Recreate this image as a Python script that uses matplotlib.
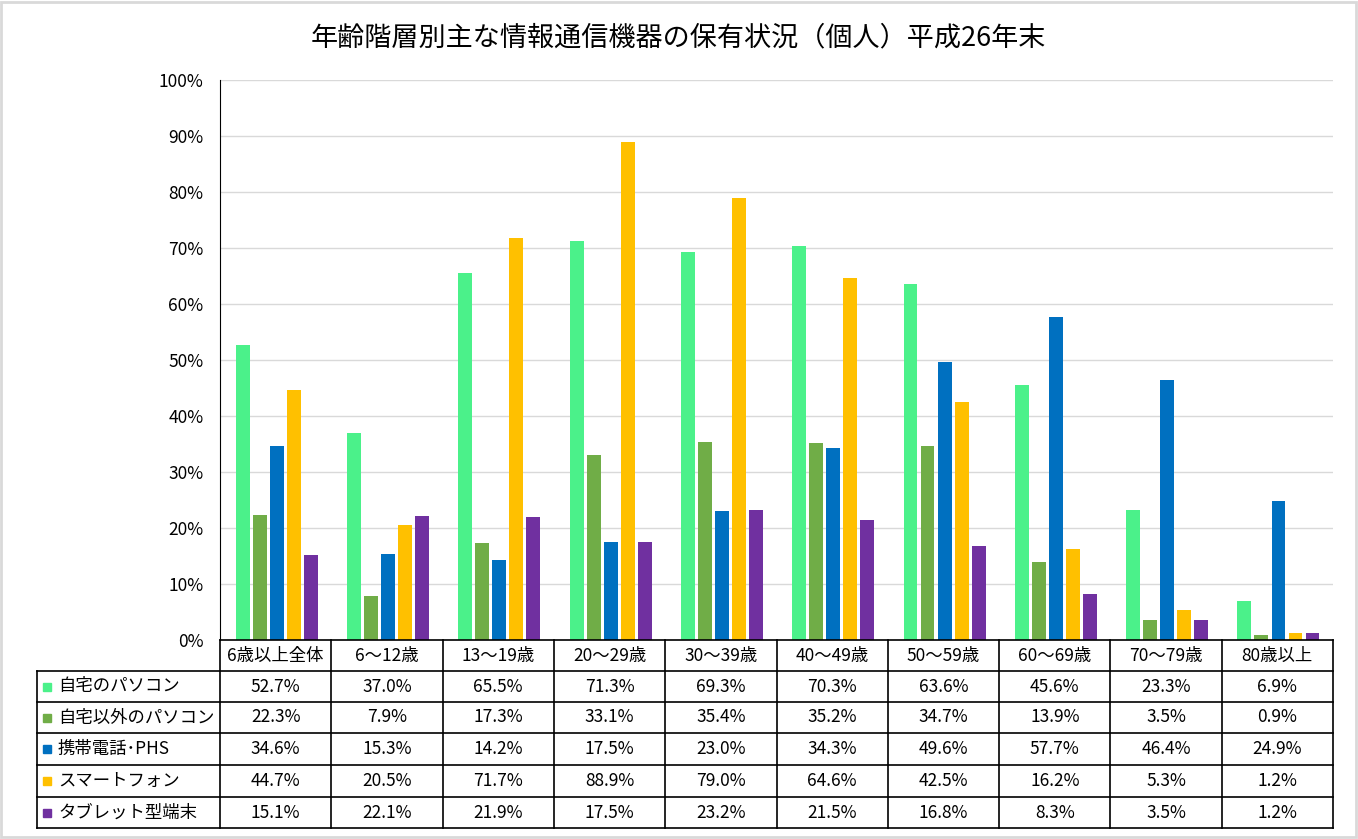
import numpy as np
import matplotlib.pyplot as plt
from matplotlib.patches import Rectangle
from matplotlib.lines import Line2D
from matplotlib.ticker import FuncFormatter

plt.rcParams['font.family'] = ['Noto Sans CJK JP', 'DejaVu Sans']

# 年齢階層
ages = ['6歳以上全体', '6～12歳', '13～19歳', '20～29歳', '30～39歳',
        '40～49歳', '50～59歳', '60～69歳', '70～79歳', '80歳以上']

series_names = ['自宅のパソコン', '自宅以外のパソコン', '携帯電話･PHS',
                'スマートフォン', 'タブレット型端末']
home_pc = [52.7, 37.0, 65.5, 71.3, 69.3, 70.3, 63.6, 45.6, 23.3, 6.9]
other_pc = [22.3, 7.9, 17.3, 33.1, 35.4, 35.2, 34.7, 13.9, 3.5, 0.9]
mobile = [34.6, 15.3, 14.2, 17.5, 23.0, 34.3, 49.6, 57.7, 46.4, 24.9]
smartphone = [44.7, 20.5, 71.7, 88.9, 79.0, 64.6, 42.5, 16.2, 5.3, 1.2]
tablet = [15.1, 22.1, 21.9, 17.5, 23.2, 21.5, 16.8, 8.3, 3.5, 1.2]
colors = ['#4BF18A', '#70AD47', '#0070C0', '#FFC000', '#7030A0']

all_series = [home_pc, other_pc, mobile, smartphone, tablet]

W, H = 1358, 839
fig = plt.figure(figsize=(W / 100, H / 100), dpi=100)

def fx(px):
    return px / W

def fy(py):
    return 1 - py / H

ax_l, ax_r, ax_t, ax_b = 220, 1333, 80, 640
ax = fig.add_axes([fx(ax_l), fy(ax_b), fx(ax_r) - fx(ax_l), fy(ax_t) - fy(ax_b)])

x = np.arange(len(ages))
bw = 0.125
step = 0.153
for i, (vals, c) in enumerate(zip(all_series, colors)):
    ax.bar(x + (i - 2) * step + 0.01, vals, bw, color=c, zorder=3)

ax.set_xlim(-0.5, len(ages) - 0.5)
ax.set_ylim(0, 100)
ax.set_yticks(np.arange(0, 101, 10))
ax.yaxis.set_major_formatter(FuncFormatter(lambda v, p: f'{v:.0f}%'))
ax.tick_params(axis='y', length=0, pad=12, labelsize=12.5, labelcolor='#000000')
ax.set_xticks([])
ax.grid(axis='y', color='#D9D9D9', linewidth=1, zorder=0)
for s in ['top', 'right', 'bottom']:
    ax.spines[s].set_visible(False)
ax.spines['left'].set_color('black')

fig.text(fx(678), fy(38), '年齢階層別主な情報通信機器の保有状況（個人）平成26年末',
         ha='center', va='center', fontsize=19.5)

# データテーブル
tab_l = 37
col_w = (ax_r - ax_l) / len(ages)
row_top = [640, 671, 702, 733, 765, 797]
tab_b = 828
lw = 1.2

def hline(y, x0, x1):
    fig.add_artist(Line2D([fx(x0), fx(x1)], [fy(y), fy(y)], color='black', lw=lw))

def vline(xp, y0, y1):
    fig.add_artist(Line2D([fx(xp), fx(xp)], [fy(y0), fy(y1)], color='black', lw=lw))

hline(640, ax_l, ax_r)
for yy in row_top[1:] + [tab_b]:
    hline(yy, tab_l, ax_r)
for j in range(len(ages) + 1):
    vline(ax_l + j * col_w, 640, tab_b)
vline(tab_l, row_top[1], tab_b)

for j, a in enumerate(ages):
    fig.text(fx(ax_l + (j + 0.5) * col_w), fy((row_top[0] + row_top[1]) / 2), a,
             ha='center', va='center', fontsize=12.5)

bottoms = row_top[2:] + [tab_b]
for i, (name, vals, c) in enumerate(zip(series_names, all_series, colors)):
    yc = (row_top[i + 1] + bottoms[i]) / 2
    fig.add_artist(Rectangle((fx(43), fy(yc + 4)), fx(8), 8 / H, color=c))
    fig.text(fx(58), fy(yc), name, ha='left', va='center', fontsize=12.5)
    for j, v in enumerate(vals):
        fig.text(fx(ax_l + (j + 0.5) * col_w), fy(yc), f'{v:.1f}%',
                 ha='center', va='center', fontsize=12.5)

# 外枠
fig.add_artist(Rectangle((fx(1), fy(837)), fx(1355), 835 / H, fill=False,
                         edgecolor='#D9D9D9', lw=2))

fig.savefig('out.png', dpi=100)
